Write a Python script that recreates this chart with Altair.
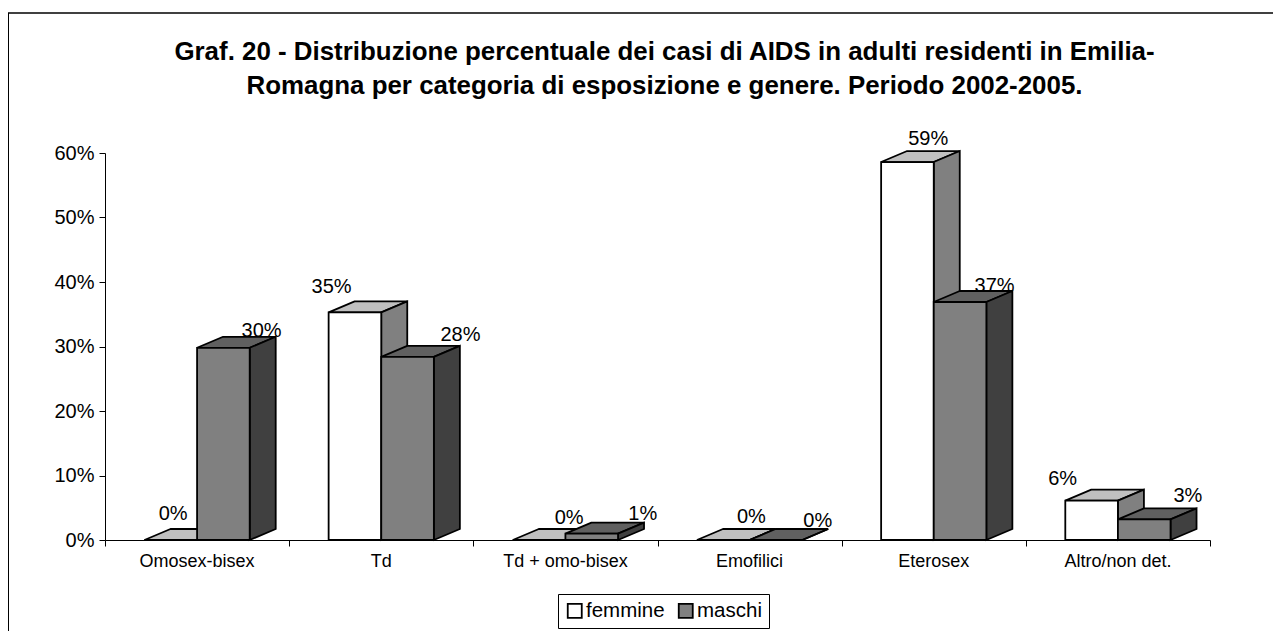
import altair as alt
import pandas as pd

categories = ["Omosex-bisex", "Td", "Td + omo-bisex", "Emofilici", "Eterosex", "Altro/non det."]
femmine = [0.0, 35.3, 0.0, 0.0, 58.6, 6.1]
maschi = [29.8, 28.4, 1.0, 0.0, 36.9, 3.2]
labels_f = ["0%", "35%", "0%", "0%", "59%", "6%"]
labels_m = ["30%", "28%", "1%", "0%", "37%", "3%"]
# label anchors, in category units and percent
label_x_f = [0.37, 1.23, 2.52, 3.51, 4.47, 5.20]
label_y_f = [4.0, 39.2, 3.4, 3.6, 62.2, 9.5]
label_x_m = [0.85, 1.93, 2.92, 3.87, 4.83, 5.88]
label_y_m = [32.4, 31.8, 4.0, 3.0, 39.4, 6.8]

BAR = 2 / 7
GAP = 3 / 14
DX = 26 / 184.17
DY = 11 / 387 * 60


def faces(values, offset, name):
    front, side, top = [], [], []
    for i, v in enumerate(values):
        a = i + GAP + offset * BAR
        b = a + BAR
        key = f"{name}{i}"
        front.append({"a": a, "b": b, "v": v, "serie": name})
        side.append({"k": key, "x": b, "lo": 0, "hi": v})
        side.append({"k": key, "x": b + DX, "lo": DY, "hi": v + DY})
        top.append({"k": key, "y": v, "l": a, "r": b})
        top.append({"k": key, "y": v + DY, "l": a + DX, "r": b + DX})
    return pd.DataFrame(front), pd.DataFrame(side), pd.DataFrame(top)


xs = alt.Scale(domain=[0, 6], nice=False, zero=False)
ys = alt.Scale(domain=[0, 60], nice=False)
color_scale = alt.Scale(domain=["femmine", "maschi"], range=["#FFFFFF", "#808080"])
SW = 1.8
x_axis = alt.Axis(values=list(range(7)), labels=False, title=None, grid=False, tickSize=6,
                  domainColor="#000", tickColor="#000")
y_axis = alt.Axis(values=list(range(0, 61, 10)), labelExpr="datum.value + '%'", title=None, grid=False,
                  tickSize=6, labelFontSize=20, labelFont="Liberation Sans", labelColor="#000",
                  domainColor="#000", tickColor="#000", labelPadding=5)


def layers(values, offset, name, top_col, side_col):
    fr, si, to = faces(values, offset, name)
    top_l = alt.Chart(to).mark_area(orient="horizontal", fill=top_col, stroke="#000", strokeWidth=SW).encode(
        y=alt.Y("y:Q", scale=ys, axis=y_axis, stack=None),
        x=alt.X("l:Q", scale=xs, axis=x_axis),
        x2="r:Q",
        detail="k:N",
    )
    side_l = alt.Chart(si).mark_area(orient="vertical", fill=side_col, stroke="#000", strokeWidth=SW).encode(
        x=alt.X("x:Q", scale=xs, axis=x_axis),
        y=alt.Y("lo:Q", scale=ys, axis=y_axis, stack=None),
        y2="hi:Q",
        detail="k:N",
    )
    front_l = alt.Chart(fr).mark_rect(stroke="#000", strokeWidth=SW).encode(
        x=alt.X("a:Q", scale=xs, axis=x_axis),
        x2="b:Q",
        y=alt.Y("v:Q", scale=ys, axis=y_axis),
        y2=alt.datum(0),
        color=alt.Color("serie:N", scale=color_scale, legend=alt.Legend(
            title=None, orient="none", legendX=453, legendY=441, direction="horizontal",
            symbolType="square", symbolSize=196, symbolStrokeColor="#000", symbolStrokeWidth=SW,
            labelFontSize=20.5, labelFont="Liberation Sans", labelColor="#000", labelOffset=1,
            strokeColor="#000", fillColor="#FFF", padding=6.5, columnPadding=9, symbolOpacity=1,
        )),
    )
    return [top_l, side_l, front_l]


lab = pd.DataFrame({
    "x": label_x_f + label_x_m,
    "y": label_y_f + label_y_m,
    "t": labels_f + labels_m,
})
val_text = alt.Chart(lab).mark_text(font="Liberation Sans", fontSize=20, color="#000").encode(
    x=alt.X("x:Q", scale=xs, axis=x_axis), y=alt.Y("y:Q", scale=ys, axis=y_axis), text="t:N")

cat = pd.DataFrame({"x": [i + 0.5 for i in range(6)], "t": categories})
cat_text = alt.Chart(cat).mark_text(font="Liberation Sans", fontSize=18, color="#000", dy=21.5).encode(
    x=alt.X("x:Q", scale=xs, axis=x_axis), y=alt.Y(datum=0, scale=ys, axis=y_axis), text="t:N")

frame_top = alt.Chart(pd.DataFrame({"a": [0]})).mark_rule(color="#000", strokeWidth=1.5).encode(
    x=alt.value(-97), x2=alt.value(1168), y=alt.value(-140))
frame_left = alt.Chart(pd.DataFrame({"a": [0]})).mark_rule(color="#000", strokeWidth=2).encode(
    x=alt.value(-97), y=alt.value(-140), y2=alt.value(478))

chart = alt.layer(
    *layers(femmine, 0, "femmine", "#C0C0C0", "#808080"),
    *layers(maschi, 1, "maschi", "#606060", "#404040"),
    val_text, cat_text, frame_top, frame_left,
).properties(
    width=1105,
    height=387,
    padding={"left": 97, "top": 145, "right": 63, "bottom": 91},
    autosize="none",
    title=alt.TitleParams(
        text=["Graf. 20 - Distribuzione percentuale dei casi di AIDS in adulti residenti in Emilia-",
              "Romagna per categoria di esposizione e genere. Periodo 2002-2005."],
        font="Liberation Sans", fontSize=25.9, fontWeight="bold", color="#000",
        anchor="middle", dx=7, offset=-88, lineHeight=34.5,
    ),
).configure_view(stroke=None)

chart.save("out.html", embed_options={"renderer": "svg", "actions": False})
